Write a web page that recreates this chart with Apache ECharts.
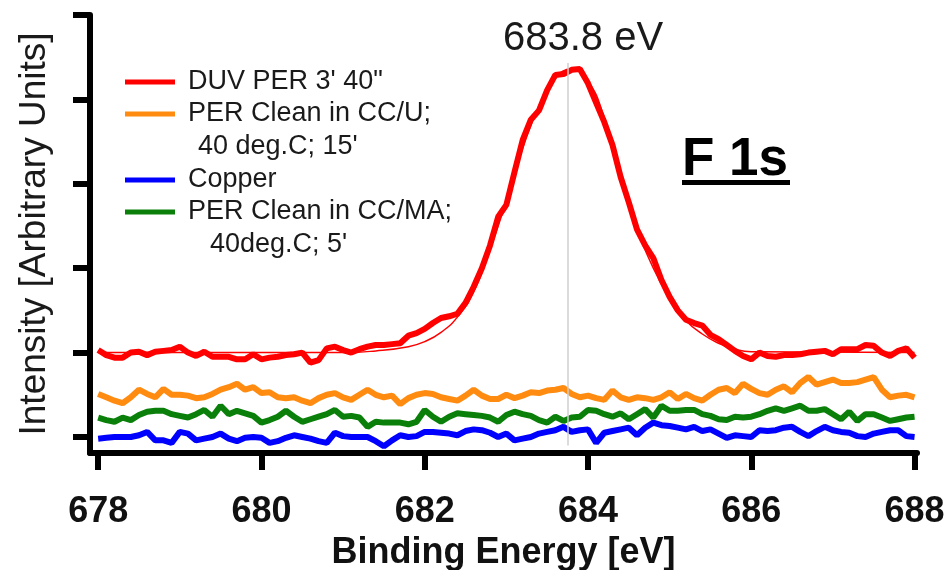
<!DOCTYPE html>
<html>
  <head>
    <meta charset="utf-8" />
    <script src="https://cdn.jsdelivr.net/npm/echarts@6.0.0/dist/echarts.min.js"></script>
  </head>
  <body style="margin:0">
    <div id="main" style="width: 950px;height:570px;"></div>
    <script type="text/javascript">
      var myChart = echarts.init(document.getElementById('main'));

      // F 1s spectra, 0.1 eV steps from 678.0 to 688.0 (intensity in arbitrary units)
      const redData = [
        1.03, 0.97, 0.94, 0.94, 1.00, 1.01, 0.97, 1.01, 1.02, 1.03,
        1.07, 1.00, 0.96, 1.01, 0.95, 0.95, 0.95, 0.92, 0.92, 0.98,
        0.92, 0.94, 0.95, 0.97, 0.98, 1.00, 0.88, 0.91, 1.05, 1.07,
        1.03, 1.00, 1.04, 1.07, 1.09, 1.09, 1.10, 1.11, 1.20, 1.23,
        1.28, 1.35, 1.41, 1.43, 1.46, 1.59, 1.78, 2.00, 2.27, 2.61,
        2.75, 3.14, 3.52, 3.76, 3.87, 4.11, 4.29, 4.30, 4.35, 4.36,
        4.19, 3.96, 3.73, 3.46, 3.08, 2.78, 2.46, 2.27, 2.12, 1.86,
        1.66, 1.50, 1.39, 1.35, 1.32, 1.21, 1.16, 1.09, 1.02, 0.96,
        0.92, 1.00, 0.96, 0.95, 0.97, 0.97, 0.98, 1.00, 1.01, 1.02,
        0.98, 1.04, 1.04, 1.04, 1.09, 1.08, 1.00, 0.96, 1.02, 1.05, 0.94
      ];
      const orangeData = [
        0.51, 0.47, 0.43, 0.40, 0.47, 0.56, 0.51, 0.47, 0.57, 0.50,
        0.50, 0.49, 0.46, 0.47, 0.51, 0.56, 0.59, 0.63, 0.56, 0.59,
        0.52, 0.53, 0.47, 0.46, 0.47, 0.43, 0.40, 0.46, 0.50, 0.52,
        0.47, 0.44, 0.50, 0.56, 0.50, 0.47, 0.49, 0.39, 0.46, 0.50,
        0.52, 0.51, 0.47, 0.45, 0.43, 0.49, 0.56, 0.49, 0.45, 0.45,
        0.50, 0.46, 0.49, 0.53, 0.52, 0.55, 0.56, 0.58, 0.51, 0.47,
        0.49, 0.46, 0.44, 0.55, 0.47, 0.44, 0.47, 0.46, 0.44, 0.47,
        0.53, 0.45, 0.51, 0.46, 0.43, 0.50, 0.56, 0.58, 0.52, 0.63,
        0.57, 0.52, 0.50, 0.56, 0.60, 0.53, 0.64, 0.71, 0.62, 0.65,
        0.68, 0.64, 0.64, 0.65, 0.68, 0.71, 0.56, 0.47, 0.49, 0.50, 0.47
      ];
      const blueData = [
        -0.02, -0.01, 0.00, 0.00, 0.00, 0.02, 0.06, -0.04, -0.04, -0.07,
        0.06, 0.04, -0.04, -0.02, 0.00, 0.04, -0.02, -0.05, -0.01, 0.00,
        -0.01, -0.07, -0.05, -0.01, 0.02, 0.00, -0.02, -0.05, -0.07, 0.05,
        0.01, 0.00, 0.00, 0.00, -0.05, -0.11, -0.04, 0.02, 0.00, 0.01,
        0.06, 0.06, 0.05, 0.04, 0.02, 0.07, 0.09, 0.08, 0.05, 0.00,
        0.04, -0.04, -0.02, 0.00, 0.04, 0.06, 0.08, 0.12, 0.06, 0.08,
        0.09, -0.07, 0.05, 0.07, 0.09, 0.11, 0.02, 0.11, 0.17, 0.14,
        0.13, 0.11, 0.09, 0.12, 0.07, 0.09, 0.04, -0.01, 0.02, 0.01,
        0.00, 0.08, 0.07, 0.08, 0.11, 0.12, 0.06, 0.01, 0.07, 0.12,
        0.08, 0.06, 0.05, 0.01, 0.00, 0.04, 0.06, 0.08, 0.08, 0.01, 0.00
      ];
      const greenData = [
        0.23, 0.20, 0.18, 0.23, 0.20, 0.26, 0.30, 0.31, 0.31, 0.27,
        0.25, 0.23, 0.27, 0.32, 0.24, 0.37, 0.27, 0.31, 0.28, 0.25,
        0.17, 0.20, 0.24, 0.31, 0.24, 0.18, 0.21, 0.24, 0.27, 0.32,
        0.24, 0.25, 0.23, 0.12, 0.18, 0.17, 0.17, 0.17, 0.15, 0.18,
        0.32, 0.24, 0.18, 0.24, 0.28, 0.27, 0.26, 0.25, 0.23, 0.18,
        0.26, 0.30, 0.27, 0.25, 0.20, 0.17, 0.24, 0.19, 0.23, 0.24,
        0.32, 0.31, 0.27, 0.24, 0.28, 0.21, 0.27, 0.33, 0.23, 0.37,
        0.31, 0.31, 0.32, 0.32, 0.27, 0.25, 0.21, 0.20, 0.24, 0.23,
        0.24, 0.27, 0.31, 0.34, 0.31, 0.34, 0.37, 0.31, 0.31, 0.33,
        0.27, 0.21, 0.30, 0.19, 0.27, 0.27, 0.23, 0.19, 0.21, 0.23, 0.24
      ];
      // peak fit for the red spectrum
      const fitEnergy = [678.0, 681.0, 681.4, 681.8, 682.0, 682.2, 682.4, 682.6, 682.8, 683.0,
        683.2, 683.4, 683.6, 683.8, 684.0, 684.2, 684.4, 684.6, 684.8, 685.0,
        685.2, 685.4, 685.6, 685.8, 686.0, 688.0];
      const fitValues = [1.00, 1.00, 1.02, 1.07, 1.13, 1.24, 1.42, 1.72, 2.22, 2.80,
        3.42, 3.92, 4.25, 4.36, 4.22, 3.78, 3.12, 2.48, 2.00, 1.65,
        1.38, 1.22, 1.11, 1.04, 1.01, 1.00];

      const energy = redData.map((v, i) => +(678 + 0.1 * i).toFixed(1));
      const xTicks = [678, 680, 682, 684, 686, 688];
      const yTicks = [0, 1, 2, 3, 4, 5];
      const peakPos = 683.75;
      const peakLabel = '683.8 eV';
      const seriesNames = ["DUV PER 3' 40\"", "PER Clean in CC/U;", "Copper", "PER Clean in CC/MA;"];
      const seriesSub = ["", "40 deg.C; 15'", "", "40deg.C; 5'"];
      const colorList = ['#ff0000', '#ff8c10', '#0000ff', '#0a800a'];
      const fontFam = '"Liberation Sans", Arial, sans-serif';

      function pairs(vals) {
        return vals.map((v, i) => [energy[i], v]);
      }

      // hand made legend (second lines are indented under the name)
      const legendRows = [82, 114, 180, 212];
      const subRows = [0, 147, 0, 245];
      const subIndent = [0, 198, 0, 210];
      let legendItems = [];
      for (let i = 0; i < seriesNames.length; i++) {
        legendItems.push({
          type: 'line',
          shape: { x1: 125, y1: legendRows[i], x2: 175, y2: legendRows[i] },
          style: { stroke: colorList[i], lineWidth: 5 }
        });
        legendItems.push({
          type: 'text', x: 188, y: legendRows[i],
          style: { text: seriesNames[i], font: '27px ' + fontFam, fill: '#1a1a1a', verticalAlign: 'middle' }
        });
        if (seriesSub[i]) {
          legendItems.push({
            type: 'text', x: subIndent[i], y: subRows[i],
            style: { text: seriesSub[i], font: '27px ' + fontFam, fill: '#1a1a1a', verticalAlign: 'middle' }
          });
        }
      }

      option = {
        animation: false,
        backgroundColor: '#ffffff',
        title: {
          text: peakLabel,
          left: 498,
          top: 14,
          textStyle: { fontFamily: fontFam, fontSize: 40, fontWeight: 'normal', color: '#1a1a1a' }
        },
        grid: { left: 90, right: 33, top: 15, bottom: 117, outerBoundsMode: 'none', containLabel: false },
        xAxis: {
          type: 'value',
          min: 677.9,
          max: 688.03,
          name: 'Binding Energy [eV]',
          nameLocation: 'middle',
          nameGap: 71,
          nameTextStyle: { fontFamily: fontFam, fontSize: 36, fontWeight: 'bold', color: '#111' },
          axisLine: { onZero: false, lineStyle: { color: '#000', width: 6 } },
          axisTick: { show: true, length: 17, lineStyle: { color: '#000', width: 6 }, customValues: xTicks },
          axisLabel: {
            margin: 41,
            fontFamily: fontFam, fontSize: 36, fontWeight: 'bold', color: '#111',
            customValues: xTicks
          },
          splitLine: { show: false }
        },
        yAxis: {
          type: 'value',
          min: -0.19,
          max: 5,
          name: 'Intensity [Arbitrary Units]',
          nameLocation: 'middle',
          nameGap: 37,
          nameTextStyle: { fontFamily: fontFam, fontSize: 37, color: '#1a1a1a' },
          axisLine: { show: true, onZero: false, lineStyle: { color: '#000', width: 6 } },
          axisTick: { show: true, length: 17, lineStyle: { color: '#000', width: 6 }, customValues: yTicks },
          axisLabel: { show: false },
          splitLine: { show: false }
        },
        graphic: legendItems.concat([
          {
            type: 'text', x: 682, y: 160,
            style: { text: 'F 1s', font: 'bold 53px ' + fontFam, fill: '#000', verticalAlign: 'middle' }
          },
          {
            type: 'rect',
            shape: { x: 682, y: 180, width: 108, height: 5 },
            style: { fill: '#000' }
          }
        ]),
        series: [
          {
            name: seriesNames[2], type: 'line', data: pairs(blueData), showSymbol: false,
            lineStyle: { color: colorList[2], width: 6 }
          },
          {
            name: seriesNames[3], type: 'line', data: pairs(greenData), showSymbol: false,
            lineStyle: { color: colorList[3], width: 6 }
          },
          {
            name: seriesNames[1], type: 'line', data: pairs(orangeData), showSymbol: false,
            lineStyle: { color: colorList[1], width: 6 }
          },
          {
            name: seriesNames[0], type: 'line', data: pairs(redData), showSymbol: false,
            lineStyle: { color: colorList[0], width: 6 },
            markLine: {
              silent: true,
              symbol: 'none',
              label: { show: false },
              lineStyle: { color: '#cfcfcf', width: 1.5, type: 'solid' },
              data: [[{ coord: [peakPos, -0.1] }, { coord: [peakPos, 4.43] }]]
            }
          },
          {
            name: 'fit', type: 'line', smooth: true, showSymbol: false,
            data: fitEnergy.map((e, i) => [e, fitValues[i]]),
            lineStyle: { color: colorList[0], width: 1.5 }
          }
        ]
      };

      myChart.setOption(option);
    </script>
  </body>
</html>
